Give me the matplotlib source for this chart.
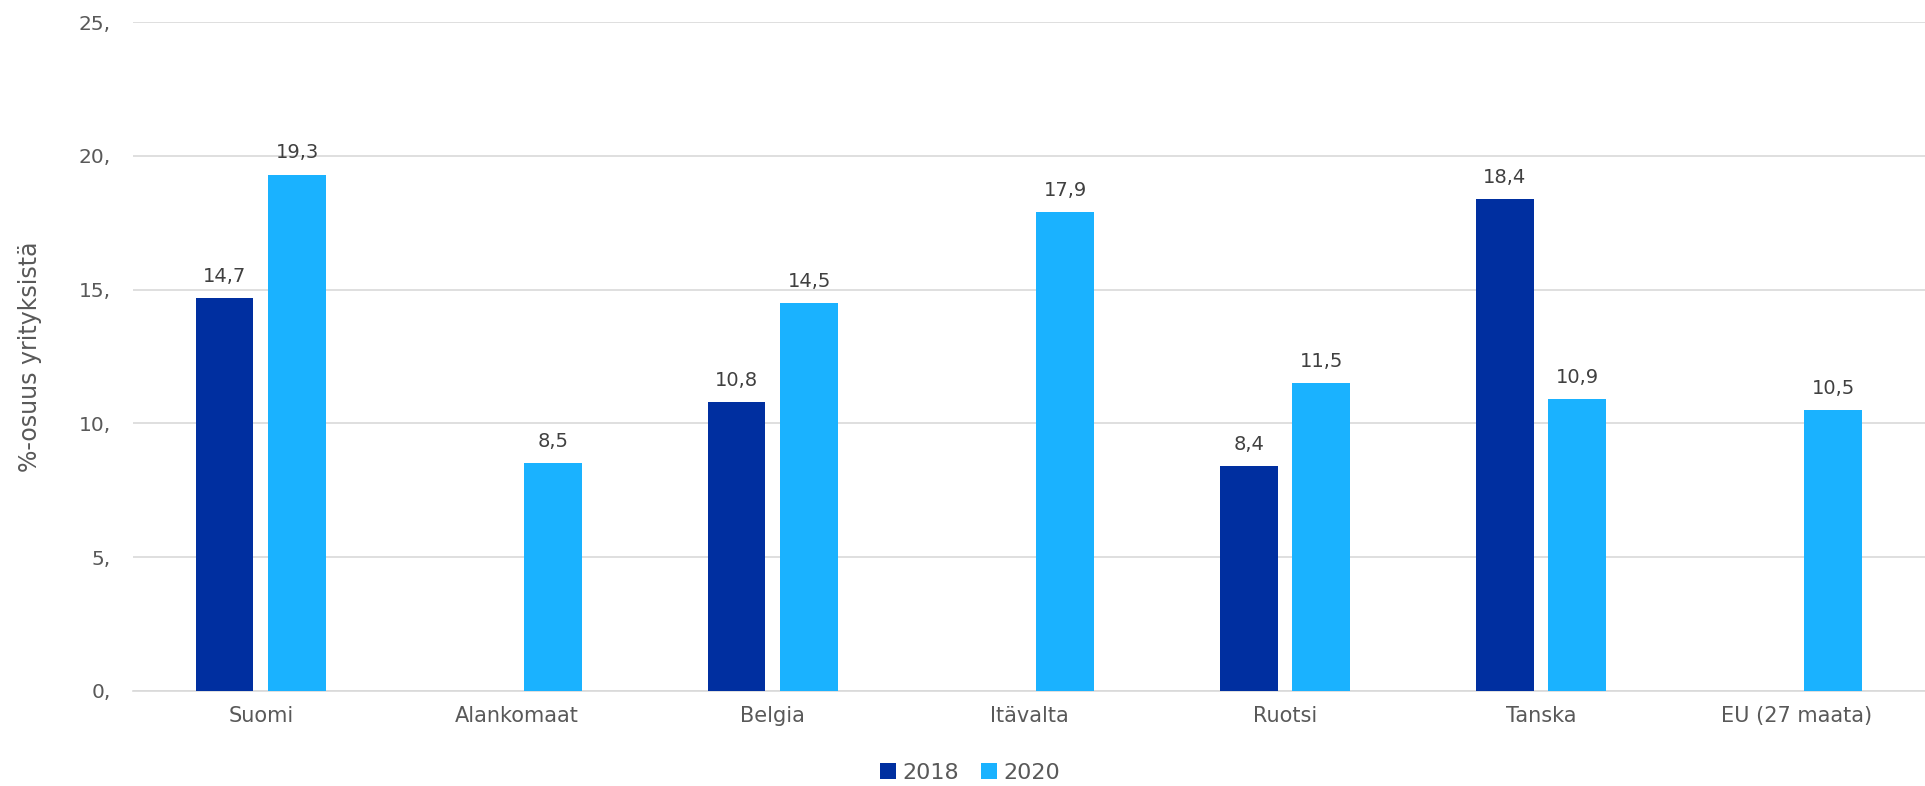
import numpy as np
import matplotlib
matplotlib.use("Agg")
import matplotlib.pyplot as plt

categories = ["Suomi", "Alankomaat", "Belgia", "Itävalta", "Ruotsi", "Tanska", "EU (27 maata)"]
values_2018 = [14.7, np.nan, 10.8, np.nan, 8.4, 18.4, np.nan]
values_2020 = [19.3, 8.5, 14.5, 17.9, 11.5, 10.9, 10.5]
yticks = [0, 5, 10, 15, 20, 25]

c2018 = "#002FA0"
c2020 = "#1AB2FF"
txt = "#595959"

fig = plt.figure(figsize=(19.25, 7.86), dpi=100)
ax = fig.add_axes([0.069, 0.121, 0.931, 0.851])

x = np.arange(len(categories))
w = 0.225
off = 0.1415
b1 = ax.bar(x - off, values_2018, w, color=c2018, label="2018", zorder=3)
b2 = ax.bar(x + off, values_2020, w, color=c2020, label="2020", zorder=3)

# data labels
for bars, vals in ((b1, values_2018), (b2, values_2020)):
    for rect, v in zip(bars, vals):
        if np.isnan(v):
            continue
        ax.text(rect.get_x() + rect.get_width() / 2, v + 0.45, f"{v:.1f}".replace(".", ","),
                ha="center", va="bottom", fontsize=14, color="#404040")

ax.set_xlim(-0.5, len(categories) - 0.5)
ax.set_ylim(0, 25)
ax.set_xticks(x)
ax.set_xticklabels(categories, fontsize=15, color=txt)
ax.set_yticks(yticks)
ax.set_yticklabels([f"{t}," for t in yticks], fontsize=14.5, color=txt)
ax.tick_params(axis="both", length=0)
ax.tick_params(axis="x", pad=11)
ax.tick_params(axis="y", pad=16)
ax.yaxis.grid(True, color="#d9d9d9", linewidth=1.2, zorder=0)
ax.set_axisbelow(True)
for s in ("top", "right", "left"):
    ax.spines[s].set_visible(False)
ax.spines["bottom"].set_color("#d9d9d9")
ax.spines["bottom"].set_linewidth(1.2)

ax.set_ylabel("%-osuus yrityksistä", fontsize=17, color=txt,
              family=["Liberation Sans Narrow", "DejaVu Sans"], labelpad=26)

leg = fig.legend(handles=[b1, b2], labels=["2018", "2020"], loc="center",
                 bbox_to_anchor=(0.504, 0.017), ncol=2, frameon=False,
                 fontsize=16, handlelength=0.7, handleheight=0.7,
                 handletextpad=0.3, columnspacing=1.0)
for t in leg.get_texts():
    t.set_color(txt)

fig.savefig("out.png", dpi=100)
